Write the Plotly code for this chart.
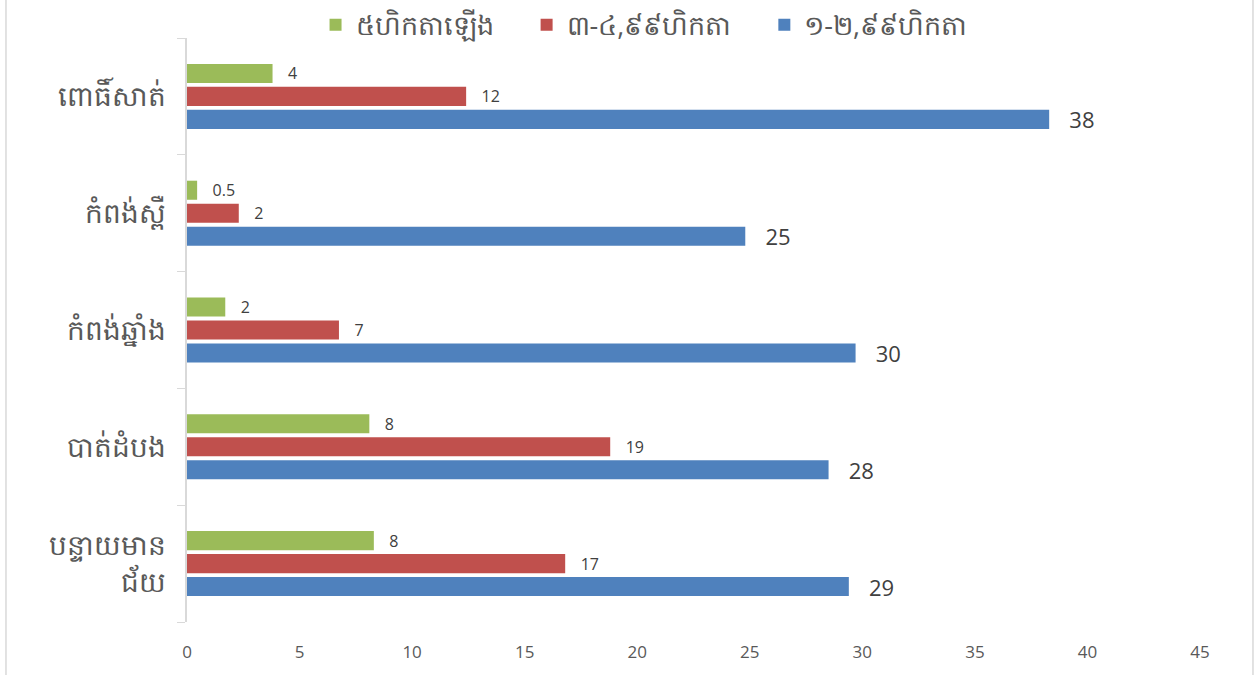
import plotly.graph_objects as go

categories = ["បន្ទាយមាន<br>ជ័យ", "បាត់ដំបង", "កំពង់ឆ្នាំង", "កំពង់ស្ពឺ", "ពោធិ៍សាត់"]

series_names = ["១-២,៩៩ហិកតា", "៣-៤,៩៩ហិកតា", "៥ហិកតាឡើង"]
blue_vals = [29.4, 28.5, 29.7, 24.8, 38.3]
red_vals = [16.8, 18.8, 6.75, 2.3, 12.4]
green_vals = [8.3, 8.1, 1.7, 0.45, 3.8]
blue_labels = ["29", "28", "30", "25", "38"]
red_labels = ["17", "19", "7", "2", "12"]
green_labels = ["8", "8", "2", "0.5", "4"]

x_ticks = [0, 5, 10, 15, 20, 25, 30, 35, 40, 45]

colors = ["#4F81BD", "#C0504D", "#9BBB59"]
label_sizes = [22, 16, 16]

pad = "\u00a0\u00a0\u00a0"
legend_pad = "\u00a0\u00a0\u00a0\u00a0"

fig = go.Figure()
for name, vals, labels, col, ls in zip(series_names, [blue_vals, red_vals, green_vals],
                                       [blue_labels, red_labels, green_labels], colors, label_sizes):
    fig.add_trace(go.Bar(
        y=categories, x=vals, name=name + legend_pad, orientation="h",
        marker=dict(color=col, line=dict(width=0)),
        text=[pad + t for t in labels], textposition="outside", cliponaxis=False,
        constraintext="none",
        textfont=dict(size=ls, color="#404040", family="Open Sans"),
    ))

fig.update_layout(
    barmode="group", bargap=0.41, bargroupgap=0.17,
    width=1254, height=675,
    margin=dict(l=187, r=54, t=38, b=53, autoexpand=False),
    paper_bgcolor="white", plot_bgcolor="white",
    font=dict(family="Open Sans", color="#595959"),
    showlegend=True,
    legend=dict(orientation="h", x=0.465, xanchor="center", y=1.022, yanchor="middle",
                traceorder="reversed", font=dict(size=27, color="#595959"),
                itemwidth=30, bgcolor="rgba(0,0,0,0)"),
    xaxis=dict(range=[0, 45], tickvals=x_ticks, showgrid=False, zeroline=False,
               showline=False, tickfont=dict(size=17, color="#595959"), ticks="",
               ticklabelstandoff=18),
    yaxis=dict(showgrid=False, showline=True, linecolor="#D9D9D9", linewidth=1.5,
               ticks="outside", tickson="boundaries", ticklen=8, tickcolor="#D9D9D9",
               tickfont=dict(size=28, color="#595959"), ticklabelstandoff=14),
)

fig.add_shape(type="line", xref="paper", yref="paper", x0=-0.1787, x1=-0.1787, y0=-0.2, y1=1.2,
              line=dict(color="#D9D9D9", width=1.5))
fig.add_shape(type="line", xref="paper", yref="paper", x0=1.0523, x1=1.0523, y0=-0.2, y1=1.2,
              line=dict(color="#D9D9D9", width=1.5))

fig.write_html("out.html", config={"displayModeBar": False},
               post_script="document.body.style.margin='0px';")
